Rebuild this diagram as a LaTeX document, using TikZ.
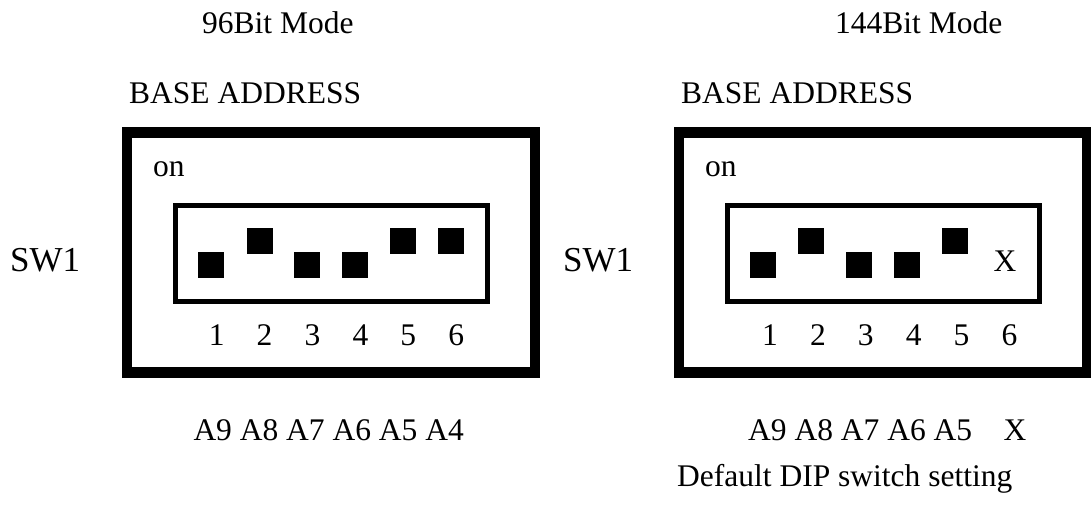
\documentclass[tikz,border=0pt]{standalone}
\usepackage{fontspec}
\setmainfont{Liberation Serif}
\begin{document}
\begin{tikzpicture}[x=1pt,y=-1pt,
  txt/.style={inner sep=0pt, font=\fontsize{31.5}{36}\selectfont},
  bigtxt/.style={inner sep=0pt, font=\fontsize{35}{40}\selectfont},
  outerbox/.style={draw=black, line width=10.5pt},
  innerbox/.style={draw=black, line width=5pt},
  sq/.style={fill=black, minimum size=26pt, inner sep=0pt, outer sep=0pt}]
\useasboundingbox (0,0) rectangle (1091,520);
% titles
\node[txt, anchor=base west] (titleL) at (202,33.3) {96Bit Mode};
\node[txt, anchor=base west] (titleR) at (835,33.3) {144Bit Mode};
\node[txt, anchor=base west] (baseL) at (129,103) {BASE ADDRESS};
\node[txt, anchor=base west] (baseR) at (681,103) {BASE ADDRESS};
% boxes
\draw[outerbox] (127,132.5) rectangle (535,372.5);
\draw[innerbox] (175.5,205) rectangle (487,301);
\draw[outerbox] (679,132.5) rectangle (1087,372.5);
\draw[innerbox] (727.5,205) rectangle (1039,301);
% on labels
\node[txt, anchor=base west] (onL) at (153,176.7) {on};
\node[txt, anchor=base west] (onR) at (705,176.7) {on};
% SW1
\node[bigtxt, anchor=base west] (swL) at (10,271.7) {SW1};
\node[bigtxt, anchor=base west] (swR) at (563,271.7) {SW1};
% left switches
\node[sq] (l1) at (211.3,265.3) {};
\node[sq] (l2) at (259.5,241.3) {};
\node[sq] (l3) at (307.3,265.3) {};
\node[sq] (l4) at (355.3,265.3) {};
\node[sq] (l5) at (403.3,241.3) {};
\node[sq] (l6) at (451.3,241.3) {};
% right switches
\node[sq] (r1) at (763.3,265.3) {};
\node[sq] (r2) at (811.3,241.3) {};
\node[sq] (r3) at (859.3,265.3) {};
\node[sq] (r4) at (907.3,265.3) {};
\node[sq] (r5) at (955.3,241.3) {};
\node[txt, anchor=base] (r6) at (1005,271.7) {X};
% numbers
\foreach \i in {1,...,6} {
  \node[txt, anchor=base] (nl\i) at ({216.7+47.9*(\i-1)},345) {\i};
  \node[txt, anchor=base] (nr\i) at ({770+47.9*(\i-1)},345) {\i};
}
% address rows
\node[txt, anchor=base west] (addrL) at (193.3,440.7) {A9 A8 A7 A6 A5 A4};
\node[txt, anchor=base west] (addrR) at (748,440.7) {A9 A8 A7 A6 A5};
\node[txt, anchor=base] (addrX) at (1015,440.7) {X};
\node[txt, anchor=base west] (dflt) at (677,486) {Default DIP switch setting};
\end{tikzpicture}
\end{document}
